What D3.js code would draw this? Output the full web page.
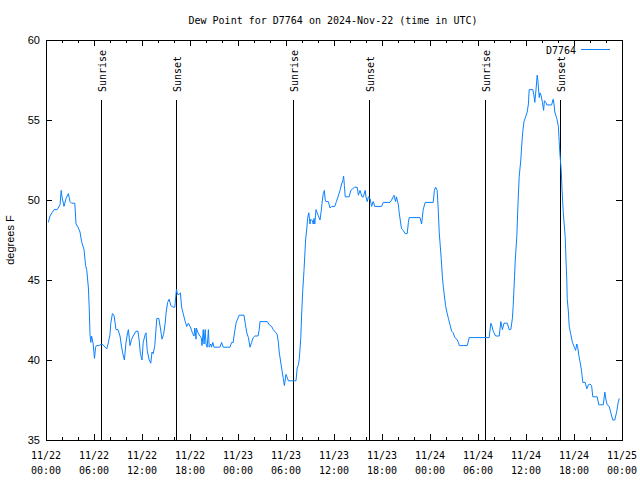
<!DOCTYPE html>
<html>
<head>
<meta charset="utf-8">
<script src="https://cdn.jsdelivr.net/npm/d3@7"></script>
<style>
  body { margin: 0; background: #fff; }
  svg { display: block; }
  text { fill: #000; }
</style>
</head>
<body>
<svg id="chart" width="640" height="480"></svg>
<script>
// ---- Data (hours since 2024-11-22 00:00 UTC, dew point in °F) ----
const hours = [
  0.29,0.5,0.75,1.0,1.4,1.75,1.9,2.0,2.25,2.5,2.8,3.0,3.2,3.6,3.75,4.0,4.25,4.45,4.75,4.95,
  5.1,5.3,5.4,5.5,5.6,5.7,5.9,6.0,6.06,6.2,6.3,6.6,7.0,7.4,7.6,7.8,8.0,8.1,8.3,8.5,
  8.75,9.0,9.25,9.45,9.6,9.8,10.0,10.2,10.3,10.5,10.7,10.9,11.25,11.5,11.65,11.8,12.0,12.15,12.4,12.5,
  12.65,12.9,13.1,13.25,13.4,13.6,13.85,14.1,14.3,14.5,14.7,14.9,15.0,15.2,15.4,15.6,15.9,16.1,16.3,16.45,
  16.65,16.8,16.95,17.15,17.4,17.6,17.8,18.1,18.3,18.5,18.6,18.75,18.8,19.0,19.25,19.4,19.5,19.66,19.75,19.9,
  20.0,20.15,20.3,20.4,20.6,20.7,20.85,21.0,21.75,21.95,22.15,23.0,23.2,23.4,23.5,23.75,23.9,24.15,24.75,24.9,
  25.1,25.3,25.5,25.7,25.9,26.1,26.5,26.66,26.75,27.66,27.9,28.2,28.4,28.75,28.9,29.05,29.15,29.3,29.45,29.66,
  29.8,30.0,30.15,30.3,31.1,31.25,31.4,31.55,31.66,31.85,31.95,32.1,32.25,32.45,32.6,32.7,32.85,33.0,33.1,33.3,
  33.4,33.5,33.6,33.75,33.9,34.05,34.25,34.4,34.5,34.66,34.8,34.9,35.0,35.3,35.5,35.7,36.1,36.3,36.5,36.75,
  36.95,37.1,37.2,37.3,37.4,37.9,38.1,38.33,38.6,38.9,39.05,39.25,39.5,39.66,39.9,40.0,40.15,40.3,40.5,40.7,
  40.9,41.1,41.96,42.15,43.0,43.2,43.4,43.5,43.7,43.8,44.05,44.15,44.35,44.45,44.66,44.9,45.15,45.3,45.4,46.75,
  46.95,47.15,47.4,48.4,48.55,48.7,48.9,49.05,49.15,49.4,49.55,49.66,49.8,49.95,50.1,50.3,50.5,50.7,50.9,51.1,
  51.35,51.55,51.66,52.66,52.9,55.4,55.6,55.7,55.9,56.2,56.66,56.85,57.05,57.25,57.5,57.66,57.9,58.1,58.3,58.4,
  58.55,58.66,58.85,59.0,59.15,59.35,59.45,59.6,59.75,59.95,60.15,60.3,60.4,60.85,61.0,61.1,61.25,61.4,61.5,61.6,
  61.66,61.75,61.9,62.05,62.2,62.3,62.5,62.6,63.2,63.4,63.5,63.6,63.85,64.05,64.15,64.25,64.4,64.5,64.66,64.9,
  65.0,65.1,65.15,65.3,65.4,65.6,65.8,66.05,66.2,66.35,66.45,66.6,66.75,66.95,67.1,67.4,67.6,67.8,68.0,68.2,
  68.35,68.9,69.1,69.66,69.85,70.0,70.15,70.4,70.6,70.85,71.1,71.35,71.5,71.66
];
const dewPoint = [
  48.6,49.0,49.2,49.4,49.4,49.7,50.6,50.2,49.6,50.1,50.4,49.9,49.8,49.8,48.5,48.3,48.0,47.4,46.9,45.9,
  45.6,44.5,43.3,41.6,41.1,41.5,41.0,40.4,40.1,40.8,40.9,40.9,41.0,40.8,40.7,41.1,41.6,42.3,42.9,42.8,
  41.9,41.9,41.5,40.8,40.4,40.0,41.1,41.7,41.9,40.9,41.3,41.5,41.8,41.8,41.2,40.4,40.0,41.1,41.6,41.7,
  40.6,40.0,39.8,40.5,40.4,40.9,42.6,42.6,42.0,41.3,41.6,42.3,42.9,43.6,43.8,43.4,43.3,43.3,44.4,44.1,
  44.1,44.2,43.3,42.9,42.4,42.1,42.3,42.0,41.7,41.5,42.0,41.3,42.0,41.7,41.5,41.4,40.9,41.9,41.0,41.9,
  41.0,40.8,41.9,40.8,41.0,40.8,41.1,40.8,40.8,41.1,40.8,40.8,41.1,41.1,41.5,42.3,42.5,42.8,42.8,42.3,
  41.7,41.4,40.8,41.1,41.4,41.5,41.5,41.9,42.4,42.4,42.2,42.1,41.9,41.7,41.6,41.1,40.5,40.0,39.5,38.85,
  38.4,39.1,38.9,38.7,38.7,38.7,39.5,39.7,40.05,41.4,42.8,44.4,45.6,47.5,48.2,48.85,49.2,48.5,48.8,48.7,
  48.5,48.85,48.5,49.4,49.2,49.0,48.75,49.3,49.8,50.4,50.6,50.0,49.9,49.9,49.5,49.6,49.6,49.9,50.2,50.6,
  51.0,51.2,51.5,50.9,50.2,50.2,50.6,50.7,50.8,50.8,50.3,50.6,50.2,50.2,50.6,50.2,49.9,50.2,50.1,49.6,
  49.9,49.6,49.6,49.85,49.85,50.0,50.2,50.3,49.9,50.2,49.7,49.2,48.5,48.2,48.1,47.9,47.9,48.6,48.9,48.9,
  48.5,49.4,49.85,49.85,50.6,50.8,50.6,49.2,48.0,46.35,45.2,44.6,44.0,43.4,43.0,42.6,42.2,41.8,41.7,41.4,
  41.3,41.1,40.9,40.9,41.4,41.4,42.3,42.2,41.8,41.5,41.5,42.4,41.9,42.3,42.3,42.3,41.9,41.9,42.6,43.4,
  45.0,46.25,47.7,49.8,51.45,52.5,53.3,54.3,54.9,55.2,55.5,56.0,56.9,56.9,56.5,56.1,56.9,57.8,57.4,56.7,
  56.4,56.7,56.5,56.1,55.6,56.2,56.1,55.94,55.94,56.3,56.0,55.5,55.1,54.6,53.65,52.8,51.9,50.7,49.2,47.7,
  46.25,45.0,43.85,43.0,42.1,41.6,41.1,40.8,40.6,41.0,40.85,40.3,39.9,39.3,38.6,38.6,38.2,38.45,38.5,38.4,
  37.7,37.7,37.2,37.2,38.0,37.5,37.2,37.1,36.7,36.25,36.25,36.8,37.3,37.6
];
// Sun event markers (hours since start)
const sunHours  = [6.87, 16.22, 30.85, 40.32, 54.88, 64.25];
const sunLabels = ["Sunrise", "Sunset", "Sunrise", "Sunset", "Sunrise", "Sunset"];
// Axis ticks
const yTicks = [35, 40, 45, 50, 55, 60];
const xTickDates = ["11/22","11/22","11/22","11/22","11/23","11/23","11/23","11/23","11/24","11/24","11/24","11/24","11/25"];
const xTickTimes = ["00:00","06:00","12:00","18:00","00:00","06:00","12:00","18:00","00:00","06:00","12:00","18:00","00:00"];
const titleText = "Dew Point for D7764 on 2024-Nov-22 (time in UTC)";
const seriesName = "D7764";
const yLabel = "degrees F";

// ---- Chart ----
const start = Date.UTC(2024, 10, 22, 0, 0);
const toDate = h => new Date(start + h * 3600 * 1000);
const data = hours.map((h, i) => ({ t: toDate(h), v: dewPoint[i] }));

const L = 46, R = 622, T = 40, B = 440;
const svg = d3.select("#chart");
const x = d3.scaleUtc().domain([toDate(0), toDate(72)]).range([L, R]);
const y = d3.scaleLinear().domain([35, 60]).range([B, T]);

const mono = "'DejaVu Sans Mono', monospace";
const sans = "'Liberation Sans', Arial, sans-serif";

const majorT = d3.range(0, 73, 6).map(toDate);
const minorT = d3.range(0, 73, 2).filter(h => h % 6 !== 0).map(toDate);

function styleAxis(g) {
  g.select(".domain").remove();
  g.selectAll("line").attr("stroke", "#000").attr("stroke-width", 1);
  g.selectAll("text").remove();
}
svg.append("g").attr("transform", `translate(0,${B})`)
  .call(d3.axisBottom(x).tickValues(majorT).tickSize(-6)).call(styleAxis);
svg.append("g").attr("transform", `translate(0,${B})`)
  .call(d3.axisBottom(x).tickValues(minorT).tickSize(-3)).call(styleAxis);
svg.append("g").attr("transform", `translate(0,${T})`)
  .call(d3.axisTop(x).tickValues(majorT).tickSize(-6)).call(styleAxis);
svg.append("g").attr("transform", `translate(0,${T})`)
  .call(d3.axisTop(x).tickValues(minorT).tickSize(-3)).call(styleAxis);
svg.append("g").attr("transform", `translate(${L},0)`)
  .call(d3.axisLeft(y).tickValues(yTicks).tickSize(-6)).call(styleAxis);
svg.append("g").attr("transform", `translate(${R},0)`)
  .call(d3.axisRight(y).tickValues(yTicks).tickSize(-6)).call(styleAxis);

// x tick labels (two lines)
majorT.forEach((d, i) => {
  const t = svg.append("text").attr("x", x(d)).attr("text-anchor", "middle")
    .style("font-family", mono).style("font-size", "10px");
  t.append("tspan").attr("x", x(d)).attr("y", 459).text(xTickDates[i]);
  t.append("tspan").attr("x", x(d)).attr("y", 474).text(xTickTimes[i]);
});
// y tick labels
yTicks.forEach(v => {
  svg.append("text").attr("x", 40).attr("y", y(v) + 4).attr("text-anchor", "end")
    .style("font-family", sans).style("font-size", "11px").text(v);
});

// sun lines
sunHours.forEach((h, i) => {
  const sx = Math.round(x(toDate(h))) + 0.5;
  svg.append("line").attr("x1", sx).attr("x2", sx).attr("y1", 100).attr("y2", B)
    .attr("stroke", "#000").attr("stroke-width", 1);
  svg.append("text").attr("transform", `translate(${sx + 4},92) rotate(-90)`)
    .attr("text-anchor", "start")
    .style("font-family", mono).style("font-size", "10px").text(sunLabels[i]);
});

// data line
svg.append("path").datum(data)
  .attr("fill", "none").attr("stroke", "#0a80ff").attr("stroke-width", 1)
  .attr("d", d3.line().x(d => x(d.t)).y(d => y(d.v)));

// border
svg.append("rect").attr("x", L + 0.5).attr("y", T + 0.5).attr("width", R - L).attr("height", B - T)
  .attr("fill", "none").attr("stroke", "#000").attr("stroke-width", 1);

// title
svg.append("text").attr("x", 333).attr("y", 24).attr("text-anchor", "middle")
  .style("font-family", mono).style("font-size", "10px").text(titleText);

// y label
svg.append("text").attr("transform", "translate(14,240) rotate(-90)").attr("text-anchor", "middle")
  .style("font-family", sans).style("font-size", "11px").text(yLabel);

// legend
svg.append("text").attr("x", 576).attr("y", 54).attr("text-anchor", "end")
  .style("font-family", mono).style("font-size", "10px").text(seriesName);
svg.append("line").attr("x1", 581).attr("x2", 610).attr("y1", 49.5).attr("y2", 49.5)
  .attr("stroke", "#0a80ff").attr("stroke-width", 1);
</script>
</body>
</html>
